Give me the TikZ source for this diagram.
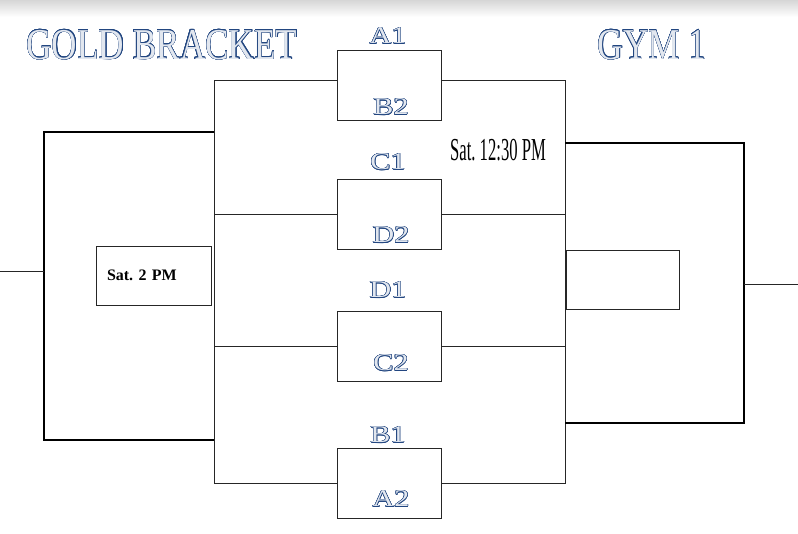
\documentclass[tikz,border=0pt]{standalone}
\usepackage{fontspec}
\setmainfont{Liberation Serif}
\usepackage{xcolor}
\usepackage{tikz}
\usepackage[copies]{contour}
\usetikzlibrary{calc}
\contourlength{0.45pt}
\contournumber{16}
\definecolor{bracketblue}{RGB}{34,70,128}
\definecolor{letterfill}{RGB}{226,231,239}
\newcommand{\teamname}[1]{\contour{bracketblue}{#1}}
\frenchspacing

\begin{document}
\begin{tikzpicture}[x=1pt,y=-1pt,
    game/.style={draw=black!85, line width=0.8pt, minimum width=104pt, minimum height=70pt, inner sep=0pt},
    seed/.style={text=letterfill, font=\fontsize{24}{24}\selectfont, inner sep=0pt},
    wire/.style={draw=black!85, line width=0.8pt},
    semi/.style={draw=black, line width=2.6pt}]
                \useasboundingbox (0,0) rectangle (798,533);
                % page shadow
                \fill[top color=black!16, bottom color=white] (0,0) rectangle (798,17);
                % titles
                \node[seed, font=\fontsize{44}{44}\selectfont] (gold) at (162,45) {\scalebox{0.8}[1]{\teamname{GOLD BRACKET}}};
                \node[seed, font=\fontsize{44}{44}\selectfont] (gym) at (652,45) {\scalebox{0.8}[1]{\teamname{GYM 1}}};
                % first round games
                \foreach \n/\yc/\seedA/\ya/\seedB/\yb in {1/85/A1/36/B2/107, 2/214/C1/162/D2/235, 3/346/D1/290/C2/363, 4/483/B1/435/A2/499} {
                    \node[game] (g\n) at (389,\yc) {};
                    \node[seed] (g\n a) at (388,\ya) {\scalebox{1.25}[1]{\teamname{\seedA}}};
                    \node[seed] (g\n b) at (391,\yb) {\scalebox{1.25}[1]{\teamname{\seedB}}};
                }
                % quarter brackets
                \coordinate (lt) at (214,80);
                \coordinate (lb) at (214,483);
                \coordinate (rt) at (565,80);
                \coordinate (rb) at (565,483);
                \draw[wire] (g1.west |- lt) -- (lt) -- (lb) -- (g4.west |- lb);
                \draw[wire] (g1.east |- rt) -- (rt) -- (rb) -- (g4.east |- rb);
                \foreach \n in {2,3} {
                    \draw[wire] (g\n.west) -- (g\n.west -| lt);
                    \draw[wire] (g\n.east) -- (g\n.east -| rt);
                }
                \node[font=\fontsize{32}{32}\selectfont] (time1230) at (498,150) {\scalebox{0.52}[1]{Sat. 12:30 PM}};
                % semi finals
                \coordinate (slt) at (44,132);
                \coordinate (slb) at (44,440);
                \coordinate (srt) at (744,143);
                \coordinate (srb) at (744,423);
                \coordinate (lout) at (0,271);
                \coordinate (rout) at (798,284);
                \draw[semi] (lt |- slt) -- (slt) -- (slb) -- (lt |- slb);
                \draw[semi] (rt |- srt) -- (srt) -- (srb) -- (rt |- srb);
                \draw[wire] (slt |- lout) -- (lout);
                \draw[wire] (srt |- rout) -- (rout);
                \node[wire, text width=93pt, inner xsep=11pt, minimum height=59pt, align=left, font=\fontsize{16}{16}\selectfont\bfseries] (time2) at (153.5,275.5) {Sat. 2 PM};
                \node[wire, minimum width=113pt, minimum height=59pt] (final) at (622.5,279.5) {};
            \end{tikzpicture}
\end{document}
